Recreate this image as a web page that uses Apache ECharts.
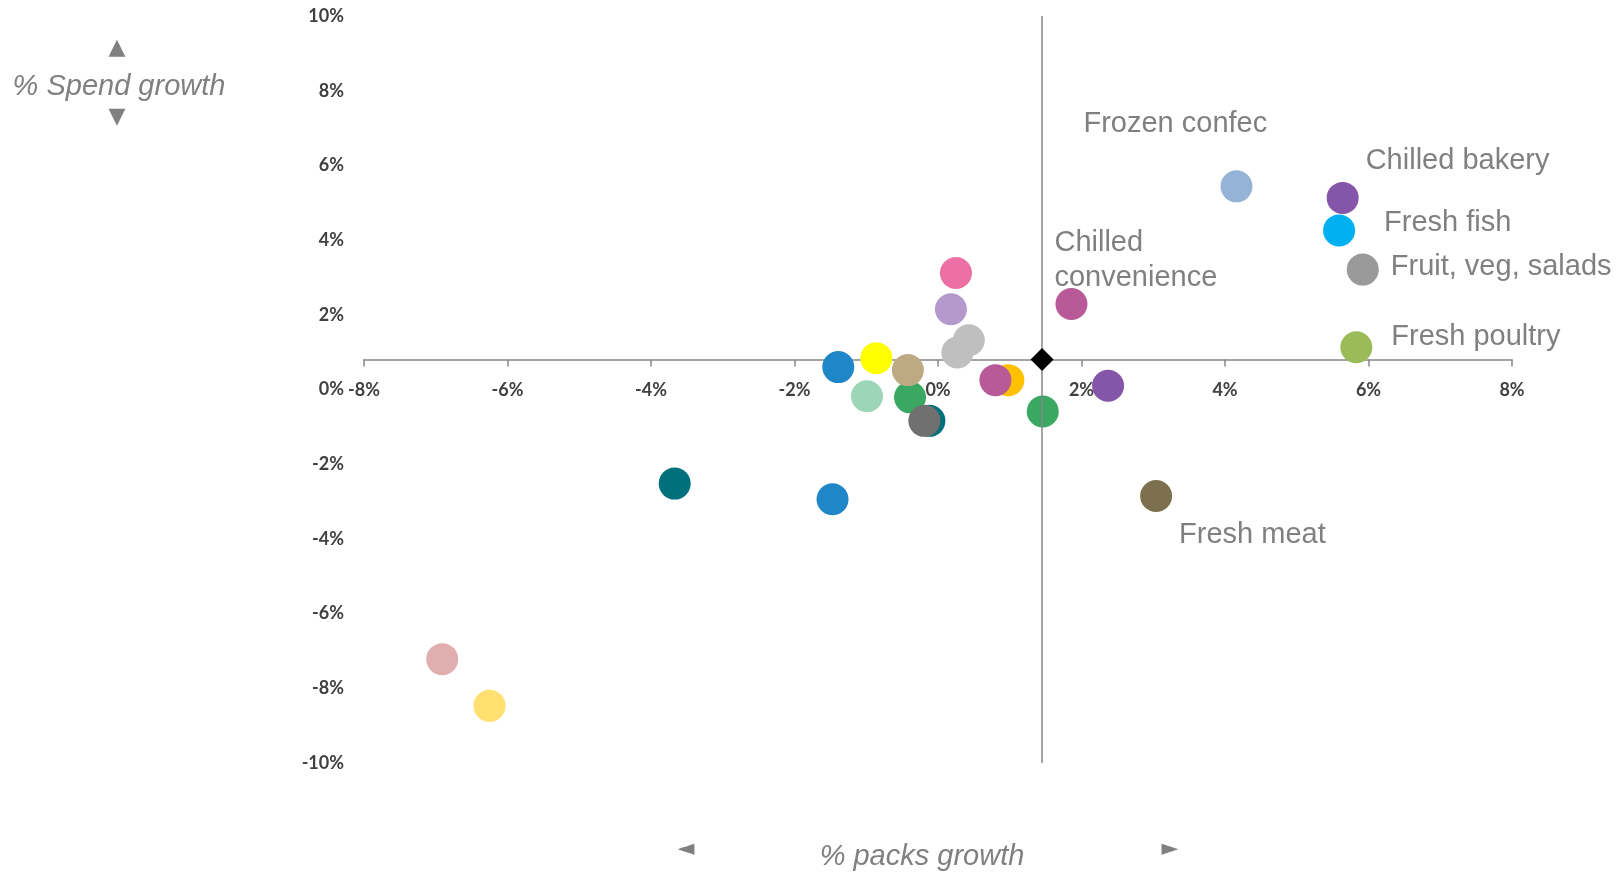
<!DOCTYPE html>
<html>
<head>
<meta charset="utf-8">
<title>% Spend growth vs % packs growth</title>
<script src="https://cdn.jsdelivr.net/npm/echarts@6.0.0/dist/echarts.min.js"></script>
<style>
  html, body { margin: 0; padding: 0; background: #ffffff; }
  #chart { width: 1619px; height: 872px; }
</style>
</head>
<body>
<div id="chart"></div>
<script>
// Category labels (empty string = unlabelled bubble), listed in drawing order
const categories = [
  '', '', '', '', '', '', '', '', '', '', '', '', '', '', '', '', '', '', '',
  'Chilled\nconvenience', 'Fresh meat', 'Frozen confec', 'Chilled bakery',
  'Fresh fish', 'Fruit, veg, salads', 'Fresh poultry'
];
// % packs growth (x)
const packsGrowth = [
  -6.91, -6.25, -3.67, -1.47, -1.39, -0.86, -0.99, -0.39, -0.42, -0.12,
  -0.19, 0.25, 0.18, 0.43, 0.27, 0.98, 0.80, 1.46, 2.37,
  1.86, 3.04, 4.16, 5.64, 5.59, 5.92, 5.83
];
// % spend growth (y)
const spendGrowth = [
  -7.22, -8.47, -2.52, -2.94, 0.60, 0.84, -0.18, -0.21, 0.52, -0.84,
  -0.84, 3.12, 2.15, 1.32, 0.99, 0.25, 0.25, -0.59, 0.10,
  2.29, -2.85, 5.44, 5.13, 4.26, 3.21, 1.13
];
const pointColors = [
  '#E0AEAE', '#FFE070', '#00707C', '#1F86C8', '#1F86C8', '#FFFF00', '#9DD5B9', '#3AA860', '#BDA982', '#00707C',
  '#707070', '#EC70A4', '#B499CC', '#BFBFBF', '#BFBFBF', '#FFC000', '#B85A98', '#3AA860', '#8455A8',
  '#B85A98', '#7D704F', '#95B3D7', '#8455A8', '#00B0F0', '#999999', '#9BBB59'
];
// Total market point: the quadrant lines cross here
const marketAverage = { packs: 1.45, spend: 0.8 };
// Axis ranges and tick step (%)
const xRange = { min: -8, max: 8, step: 2 };
const yRange = { min: -10, max: 10, step: 2 };

// Label placement: offset of the label's left edge / vertical middle from the bubble centre
const labelOffsets = {
  'Chilled\nconvenience': [-17, -43],
  'Fresh meat': [23, 39],
  'Frozen confec': [-153, -62],
  'Chilled bakery': [23, -37],
  'Fresh fish': [45, -7],
  'Fruit, veg, salads': [28, -3],
  'Fresh poultry': [35, -10]
};

const GREY_TEXT = '#808080';
const AXIS_GREY = '#868686';
const TICK_FONT = 'Lato';

const GRID = { left: 364, right: 107, top: 16, bottom: 109 };
const CHART_H = 872;
// Lift the x axis from the bottom edge up to the market spend growth level
const plotHeight = CHART_H - GRID.top - GRID.bottom;
const xAxisLift = plotHeight * (marketAverage.spend - yRange.min) / (yRange.max - yRange.min);

const bubbles = categories.map((name, i) => {
  const item = {
    value: [packsGrowth[i], spendGrowth[i]],
    name: name,
    itemStyle: { color: pointColors[i], opacity: 1 }
  };
  if (name) {
    item.label = {
      show: true,
      position: 'inside',
      align: 'left',
      verticalAlign: 'middle',
      offset: labelOffsets[name],
      formatter: name,
      color: GREY_TEXT,
      fontFamily: '"Liberation Sans", Arial, sans-serif',
      fontSize: 29,
      lineHeight: 35
    };
  }
  return item;
});

const chart = echarts.init(document.getElementById('chart'), null, { renderer: 'canvas' });

const arrowStyle = (ch) => ({
  text: ch, fill: GREY_TEXT, font: '22px "DejaVu Sans"',
  align: 'center', verticalAlign: 'middle', textAlign: 'center', textVerticalAlign: 'middle'
});
const titleStyle = (txt) => ({
  text: txt, fill: GREY_TEXT, font: 'italic 29px "Liberation Sans", Arial, sans-serif',
  align: 'center', verticalAlign: 'middle', textAlign: 'center', textVerticalAlign: 'middle'
});

chart.setOption({
  animation: false,
  backgroundColor: '#ffffff',
  grid: { left: GRID.left, right: GRID.right, top: GRID.top, bottom: GRID.bottom, containLabel: false },
  xAxis: [{
    type: 'value',
    position: 'bottom',
    offset: -xAxisLift,
    min: xRange.min,
    max: xRange.max,
    interval: xRange.step,
    axisLine: {
      show: true,
      onZero: false,
      lineStyle: { color: AXIS_GREY, width: 1.5 }
    },
    axisTick: { show: true, inside: false, length: 7, lineStyle: { color: AXIS_GREY, width: 1.5 } },
    axisLabel: {
      formatter: '{value}%',
      margin: 22,
      color: '#404040',
      fontFamily: TICK_FONT,
      fontWeight: 'bold',
      fontSize: 18
    },
    splitLine: { show: false }
  }],
  yAxis: [{
    type: 'value',
    position: 'left',
    min: yRange.min,
    max: yRange.max,
    interval: yRange.step,
    axisLine: { show: false },
    axisTick: { show: false },
    axisLabel: {
      formatter: '{value}%',
      margin: 20,
      color: '#404040',
      fontFamily: TICK_FONT,
      fontWeight: 'bold',
      fontSize: 18
    },
    splitLine: { show: false }
  }],
  series: [{
    type: 'line',
    z: 1,
    silent: true,
    showSymbol: false,
    data: [[marketAverage.packs, marketAverage.spend]],
    lineStyle: { opacity: 0 },
    markLine: {
      silent: true,
      symbol: 'none',
      label: { show: false },
      lineStyle: { color: AXIS_GREY, width: 1.5, type: 'solid' },
      data: [{ xAxis: marketAverage.packs }]
    }
  }, {
    type: 'scatter',
    z: 3,
    symbol: 'circle',
    symbolSize: 32,
    itemStyle: { opacity: 1 },
    data: bubbles
  }, {
    type: 'scatter',
    z: 5,
    symbol: 'diamond',
    symbolSize: 23,
    itemStyle: { color: '#000000', opacity: 1 },
    data: [[marketAverage.packs, marketAverage.spend]]
  }],
  graphic: [
    { type: 'text', x: 117, y: 48, style: arrowStyle('\u25B2') },
    { type: 'text', x: 119, y: 87, style: titleStyle('% Spend growth') },
    { type: 'text', x: 117, y: 117, style: arrowStyle('\u25BC') },
    { type: 'text', x: 686, y: 849, style: arrowStyle('\u25C4') },
    { type: 'text', x: 922, y: 857, style: titleStyle('% packs growth') },
    { type: 'text', x: 1170, y: 849, style: arrowStyle('\u25BA') }
  ]
});
</script>
</body>
</html>
